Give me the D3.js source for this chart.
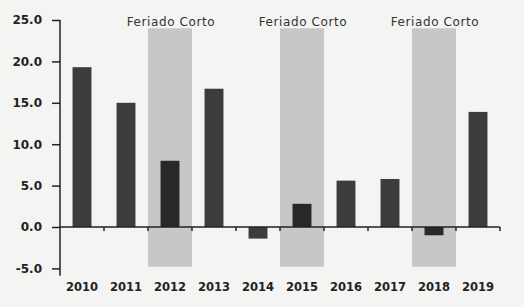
<!DOCTYPE html>
<html>
<head>
<meta charset="utf-8">
<script src="https://cdn.jsdelivr.net/npm/d3@7"></script>
<style>
  body { margin: 0; background: #f4f4f2; }
  svg { display: block; }
</style>
</head>
<body>
<script>
// data
var years = ["2010", "2011", "2012", "2013", "2014", "2015", "2016", "2017", "2018", "2019"];
var values = [19.3, 15.0, 8.0, 16.7, -1.4, 2.8, 5.6, 5.8, -1.0, 13.9];
var shortHoliday = ["2012", "2015", "2018"];
var shadeLabel = "Feriado Corto";
var shadeRange = [-4.8, 24.0];
var yTicks = [-5, 0, 5, 10, 15, 20, 25];

var svgWidth = 524;
var svgHeight = 307;

var svg = d3.select("body")
    .append("svg")
    .attr("width", svgWidth)
    .attr("height", svgHeight);

var x = d3.scaleBand()
    .domain(years)
    .range([60, 500])
    .padding(0);

var y = d3.scaleLinear()
    .domain([-5, 25])
    .range([268.4, 20]);

var barW = x.bandwidth() * 0.43;

// shaded "feriado corto" columns
svg.append("g").selectAll("rect")
    .data(shortHoliday)
    .join("rect")
    .attr("x", d => x(d))
    .attr("width", x.bandwidth())
    .attr("y", y(shadeRange[1]))
    .attr("height", y(shadeRange[0]) - y(shadeRange[1]))
    .attr("fill", "#c7c7c9");

svg.append("g").selectAll("text")
    .data(shortHoliday)
    .join("text")
    .attr("x", d => x(d) + x.bandwidth() / 2 + 1)
    .attr("y", 26)
    .attr("text-anchor", "middle")
    .attr("font-family", "DejaVu Sans")
    .attr("font-size", 12)
    .attr("letter-spacing", 0.6)
    .attr("fill", "#333")
    .text(shadeLabel);

// bars
svg.append("g").selectAll("rect")
    .data(years)
    .join("rect")
    .attr("x", (d, i) => x(d) + (x.bandwidth() - barW) / 2)
    .attr("width", barW)
    .attr("y", (d, i) => y(Math.max(0, values[i])))
    .attr("height", (d, i) => Math.abs(y(values[i]) - y(0)))
    .attr("fill", d => shortHoliday.includes(d) ? "#28282a" : "#3c3b3e");

// y axis
var leftAxis = d3.axisLeft(y)
    .tickValues(yTicks)
    .tickFormat(d => d.toFixed(1))
    .tickSize(8)
    .tickPadding(10)
    .tickSizeOuter(0);

var yAxisG = svg.append("g")
    .attr("transform", "translate(60,0)")
    .call(leftAxis);
yAxisG.select(".domain").remove();
yAxisG.append("line")
    .attr("x1", 0).attr("x2", 0)
    .attr("y1", y(25)).attr("y2", y(-5.9))
    .attr("stroke", "#222").attr("stroke-width", 1.5);
yAxisG.selectAll(".tick line").attr("stroke", "#222").attr("stroke-width", 1.5);
yAxisG.selectAll(".tick text")
    .attr("font-family", "DejaVu Sans")
    .attr("font-weight", "bold")
    .attr("font-size", 12)
    .attr("fill", "#222");

// zero line with band boundary ticks
var zeroG = svg.append("g");
zeroG.append("line")
    .attr("x1", 60).attr("x2", 500)
    .attr("y1", y(0)).attr("y2", y(0))
    .attr("stroke", "#222").attr("stroke-width", 1.5);
zeroG.selectAll(".bt")
    .data(years)
    .join("line")
    .attr("class", "bt")
    .attr("x1", d => x(d) + x.bandwidth())
    .attr("x2", d => x(d) + x.bandwidth())
    .attr("y1", y(0))
    .attr("y2", y(0) + 4)
    .attr("stroke", "#222").attr("stroke-width", 1.5);

// year labels
var bottomAxis = d3.axisBottom(x).tickSize(0).tickPadding(0);
var xAxisG = svg.append("g")
    .attr("transform", "translate(0,283)")
    .call(bottomAxis);
xAxisG.select(".domain").remove();
xAxisG.selectAll(".tick text")
    .attr("font-family", "DejaVu Sans")
    .attr("font-weight", "bold")
    .attr("font-size", 11.5)
    .attr("fill", "#222");
</script>
</body>
</html>
